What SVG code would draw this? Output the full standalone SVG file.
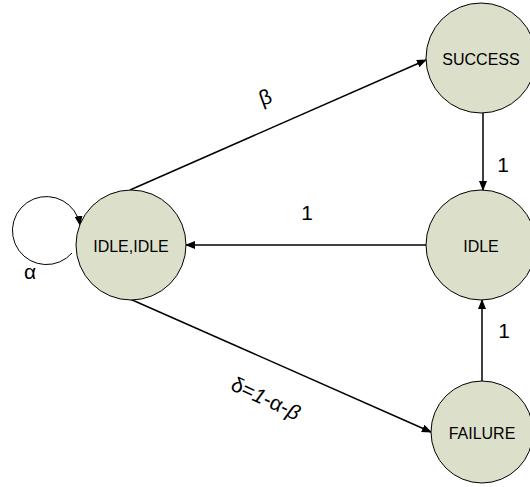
<svg xmlns="http://www.w3.org/2000/svg" width="530" height="487" viewBox="0 0 530 487">
<defs>
<marker id="ah" markerWidth="10" markerHeight="8" refX="9" refY="4" orient="auto" markerUnits="userSpaceOnUse">
<path d="M0,0 L10,4 L0,8 Z" fill="#000"/>
</marker>
<style>
.node{fill:#dcdfca;stroke:#000;stroke-width:1}
.nt{font-family:"Liberation Sans",Arial,sans-serif;font-size:16px;fill:#000;text-anchor:middle;dominant-baseline:central}
.edge{stroke:#000;stroke-width:1.5;fill:none;marker-end:url(#ah)}
.loop{stroke:#000;stroke-width:1;fill:none;marker-end:url(#ah)}
.lbl{font-family:"Liberation Sans",Arial,sans-serif;font-size:21px;fill:#000;text-anchor:middle;dominant-baseline:central}
</style>
</defs>
<rect width="530" height="487" fill="#fff"/>
<g id="connectors">
<line class="edge" x1="130" y1="190" x2="426" y2="60"/>
<line class="edge" x1="483" y1="113" x2="483" y2="190"/>
<line class="edge" x1="426" y1="245" x2="186" y2="245"/>
<line class="edge" x1="482" y1="381" x2="482" y2="300"/>
<line class="edge" x1="130" y1="299" x2="431" y2="432"/>
<path class="loop" d="M72,253 A34,34 0 1 1 80,225"/>
<text class="lbl" x="265" y="97" transform="rotate(-20 265 97)">β</text>
<text class="lbl" x="503" y="164">1</text>
<text class="lbl" x="307" y="212">1</text>
<text class="lbl" x="504" y="330">1</text>
<text class="lbl" x="30" y="271">α</text>
<text class="lbl" x="266" y="398" transform="rotate(25 266 398)">δ=<tspan font-style="italic">1</tspan>-α-<tspan font-style="italic">β</tspan></text>
</g>
<g id="idleidle"><circle class="node" cx="131" cy="245" r="55"/><text class="nt" x="131" y="246">IDLE,IDLE</text></g>
<g id="success"><circle class="node" cx="481" cy="58" r="55"/><text class="nt" x="481" y="59">SUCCESS</text></g>
<g id="idle"><circle class="node" cx="481" cy="245" r="55"/><text class="nt" x="481" y="246">IDLE</text></g>
<g id="failure"><circle class="node" cx="482" cy="432" r="51"/><text class="nt" x="482" y="433">FAILURE</text></g>
</svg>
